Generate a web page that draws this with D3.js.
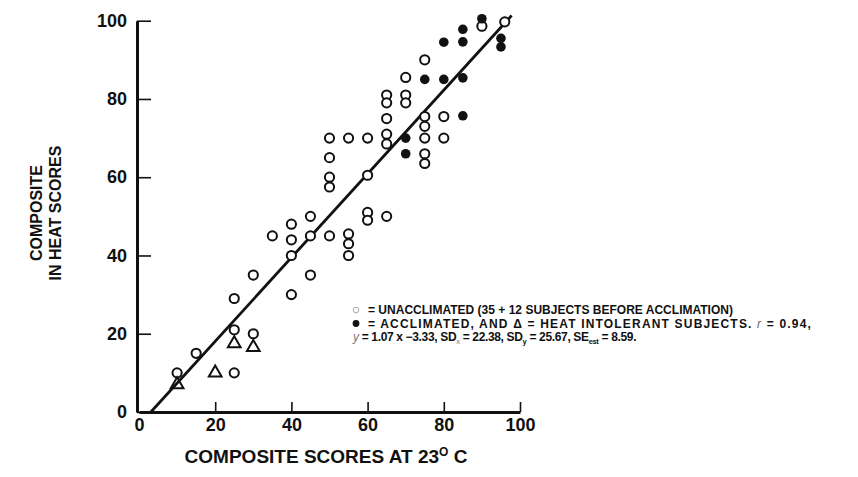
<!DOCTYPE html>
<html>
<head>
<meta charset="utf-8">
<script src="https://cdn.jsdelivr.net/npm/d3@7"></script>
<style>
  body { margin: 0; background: #fff; }
  text { font-family: "Liberation Sans", Arial, sans-serif; font-weight: bold; fill: #111; }
</style>
</head>
<body>
<svg id="chart" width="858" height="477"></svg>
<script>
// Tick values for both axes
const xTicks = [0, 20, 40, 60, 80, 100];
const yTicks = [0, 20, 40, 60, 80, 100];

// [composite score at 23 C, composite heat score]
const unacclimated = [
  [10, 10], [15, 15], [25, 29], [25, 21], [25, 10], [30, 35], [30, 20],
  [35, 45], [40, 48], [40, 44], [40, 40], [40, 30], [45, 50], [45, 45], [45, 35],
  [50, 45], [50, 70], [50, 65], [50, 60], [50, 57.5],
  [55, 70], [55, 45.5], [55, 43], [55, 40],
  [60, 70], [60, 60.5], [60, 51], [60, 49],
  [65, 81], [65, 79], [65, 75], [65, 71], [65, 68.5], [65, 50],
  [70, 81], [70, 79], [70, 85.5],
  [75, 90], [75, 75.5], [75, 73], [75, 70], [75, 66], [75, 63.5],
  [80, 75.5], [80, 70], [90, 98.6], [96, 99.7]
];
const acclimated = [
  [70, 70], [70, 66], [75, 85], [80, 94.5], [80, 85],
  [85, 97.8], [85, 94.6], [85, 85.4], [85, 75.7], [90, 100.5], [95, 95.5], [95, 93.3]
];
const heatIntolerant = [[10, 7], [20, 10], [25, 17.5], [30, 16.5]];

// Regression y = 1.07x - 3.33, drawn from the x-intercept up to x = 97.8
const fitSlope = 1.07;
const fitIntercept = -3.33;
const fitXEnd = 97.8;

const svg = d3.select("#chart");
const ink = "#111";

const x = d3.scaleLinear().domain([0, 100]).range([139, 520]);
const y = d3.scaleLinear().domain([0, 100]).range([412, 20.7]);

// X axis with inward ticks
const xAxis = svg.append("g")
  .attr("transform", `translate(0,${y(0)})`)
  .call(d3.axisBottom(x).tickValues(xTicks).tickSize(-10).tickSizeOuter(0).tickPadding(6).tickFormat(d3.format("d")));
// Y axis with inward ticks
const yAxis = svg.append("g")
  .attr("transform", `translate(${x(0) - 2},0)`)
  .call(d3.axisLeft(y).tickValues(yTicks).tickSize(-14).tickSizeOuter(0).tickPadding(10).tickFormat(d3.format("d")));

[xAxis, yAxis].forEach(g => {
  g.select(".domain").attr("stroke", ink).attr("stroke-width", 3);
  g.selectAll(".tick line").attr("stroke", ink).attr("stroke-width", 1.6);
  g.selectAll(".tick text").attr("fill", ink).style("font-size", "18px").style("font-weight", "bold")
    .style("font-family", "'Liberation Sans', Arial, sans-serif");
});
xAxis.selectAll(".tick").filter(d => d === 0).select("line").remove();

// Regression line
const x0 = -fitIntercept / fitSlope;
svg.append("line")
  .attr("x1", x(x0)).attr("y1", y(fitSlope * x0 + fitIntercept))
  .attr("x2", x(fitXEnd)).attr("y2", y(fitSlope * fitXEnd + fitIntercept))
  .attr("stroke", ink).attr("stroke-width", 2.8);

// Open circles: unacclimated
svg.append("g").selectAll("circle").data(unacclimated).join("circle")
  .attr("cx", d => x(d[0])).attr("cy", d => y(d[1])).attr("r", 4.6)
  .attr("fill", "#fff").attr("stroke", ink).attr("stroke-width", 2);

// Filled circles: acclimated
svg.append("g").selectAll("circle").data(acclimated).join("circle")
  .attr("cx", d => x(d[0])).attr("cy", d => y(d[1])).attr("r", 4.8)
  .attr("fill", ink);

// Triangles: heat-intolerant subjects
const tri = d3.symbol(d3.symbolTriangle, 70);
svg.append("g").selectAll("path").data(heatIntolerant).join("path")
  .attr("d", tri)
  .attr("transform", d => `translate(${x(d[0])},${y(d[1])})`)
  .attr("fill", "none").attr("stroke", ink).attr("stroke-width", 2).attr("stroke-linejoin", "miter");

// X axis title
const xt = svg.append("text").attr("x", 326).attr("y", 463).attr("text-anchor", "middle")
  .style("font-size", "19px");
xt.append("tspan").text("COMPOSITE SCORES AT 23");
xt.append("tspan").attr("dy", -7).style("font-size", "12px").text("O");
xt.append("tspan").attr("dy", 7).text(" C");

// Y axis title (two lines)
const yt = svg.append("text").attr("transform", "translate(0,213) rotate(-90)").attr("text-anchor", "middle")
  .style("font-size", "16px");
yt.append("tspan").attr("x", 0).attr("y", 42).text("COMPOSITE");
yt.append("tspan").attr("x", 0).attr("y", 61).text("IN HEAT SCORES");

// Legend and statistics; each line is spread to its set width
const lg = svg.append("g").attr("transform", "translate(353,0)").style("font-size", "12px");
function spread(sel, width) {
  const node = sel.node();
  const n = node.textContent.length;
  const len = node.getComputedTextLength();
  sel.style("letter-spacing", `${Math.max(-0.6, (width - len) / n)}px`);
}
lg.append("circle").attr("cx", 3).attr("cy", 310).attr("r", 2.8).attr("fill", "none").attr("stroke", "#aaa").attr("stroke-width", 1);
const l1 = lg.append("text").attr("x", 15).attr("y", 314).text("=  UNACCLIMATED (35 + 12 SUBJECTS BEFORE ACCLIMATION)");
spread(l1, 365);
lg.append("circle").attr("cx", 3).attr("cy", 323.5).attr("r", 3.4).attr("fill", ink);
const l2 = lg.append("text").attr("x", 15).attr("y", 327.5);
l2.append("tspan").text("=  ACCLIMATED, AND \u0394  =  HEAT INTOLERANT SUBJECTS. ");
l2.append("tspan").style("font-style", "italic").style("font-weight", "normal").attr("fill", "#666").text("r");
l2.append("tspan").text("  =  0.94,");
spread(l2, 450);
const l3 = lg.append("text").attr("x", 0).attr("y", 341);
l3.append("tspan").style("font-style", "italic").style("font-weight", "normal").attr("fill", "#777").text("y");
l3.append("tspan").text("  =  1.07 x  \u22123.33, SD");
l3.append("tspan").attr("dy", 2.5).style("font-size", "7.5px").style("font-weight", "normal").attr("fill", "#777").text("x");
l3.append("tspan").attr("dy", -2.5).text("  =  22.38, SD");
l3.append("tspan").attr("dy", 2.5).style("font-size", "7.5px").text("y");
l3.append("tspan").attr("dy", -2.5).text("  =  25.67, SE");
l3.append("tspan").attr("dy", 3).style("font-size", "7.5px").text("est");
l3.append("tspan").attr("dy", -3).text("  =  8.59.");
spread(l3, 280);
</script>
</body>
</html>
